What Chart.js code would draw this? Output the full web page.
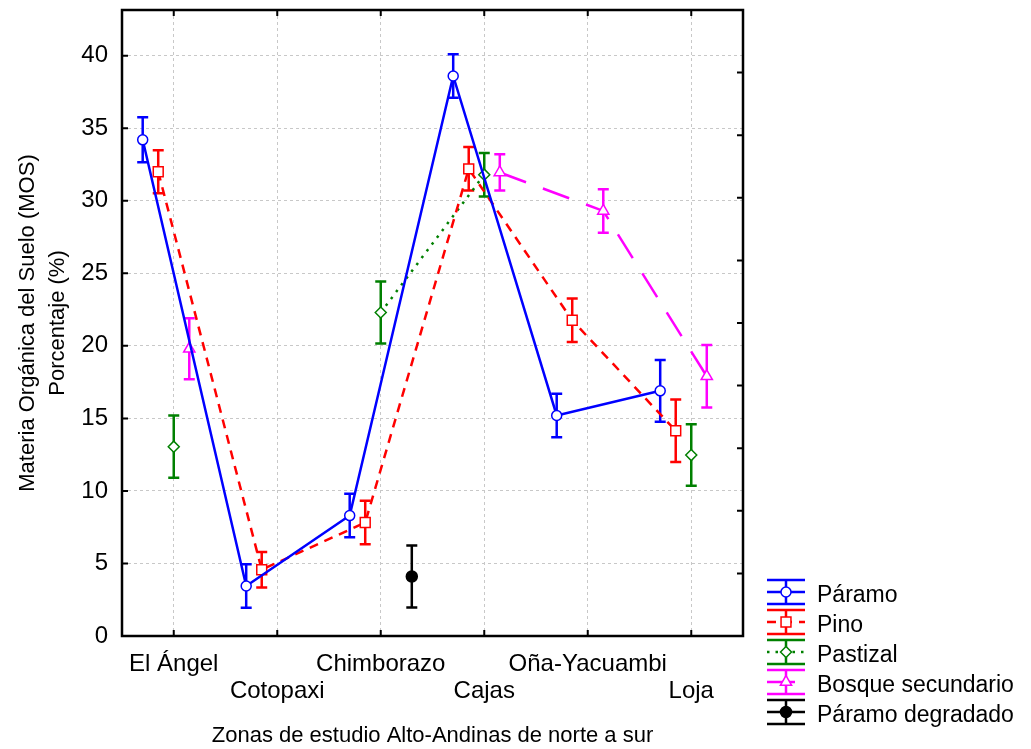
<!DOCTYPE html>
<html>
<head>
<meta charset="utf-8">
<script src="https://cdn.jsdelivr.net/npm/chart.js@4.4.1/dist/chart.umd.min.js"></script>
<style>
  html, body { margin: 0; padding: 0; background: #fff; }
  #wrap { width: 1031px; height: 749px; }
</style>
</head>
<body>
<div id="wrap"><canvas id="chart"></canvas></div>
<script>
// ---------------- DATA ----------------
const zonas = ["El Ángel", "Cotopaxi", "Chimborazo", "Cajas", "Oña-Yacuambi", "Loja"];
const yTicks = [0, 5, 10, 15, 20, 25, 30, 35, 40];

// mean MOS (%) and error (+/-) per zone, null = no sample
const paramo = [34.2, 3.45, 8.3, 38.6, 15.2, 16.9];
const paramoErr = [1.55, 1.5, 1.5, 1.5, 1.5, 2.13];
const pino = [32.0, 4.57, 7.82, 32.2, 21.76, 14.15];
const pinoErr = [1.48, 1.22, 1.5, 1.5, 1.5, 2.15];
const pastizal = [13.05, null, 22.3, 31.8, null, 12.47];
const pastizalErr = [2.15, null, 2.13, 1.5, null, 2.12];
const bosque = [19.8, null, null, 31.95, 29.3, 17.9];
const bosqueErr = [2.1, null, null, 1.25, 1.5, 2.15];
const degradado = [null, null, 4.1, null, null, null];
const degradadoErr = [null, null, 2.13, null, null, null];

const FONT = '"Liberation Sans", Arial, sans-serif';

const series = [
  { label: "Páramo", values: paramo, err: paramoErr, color: "#0000ff", dash: [], style: "circle", radius: 5, off: -0.3, fill: "#ffffff" },
  { label: "Pino", values: pino, err: pinoErr, color: "#ff0000", dash: [9, 7], style: "rect", radius: 7, off: -0.15, fill: "#ffffff" },
  { label: "Pastizal", values: pastizal, err: pastizalErr, color: "#008000", dash: [2.5, 6], style: "rectRot", radius: 5.5, off: 0, fill: "#ffffff" },
  { label: "Bosque secundario", values: bosque, err: bosqueErr, color: "#ff00ff", dash: [28, 18], style: "triangle", radius: 6.5, off: 0.15, fill: "#ffffff" },
  { label: "Páramo degradado", values: degradado, err: degradadoErr, color: "#000000", dash: [], style: "circle", radius: 5.5, off: 0.3, fill: "#000000" }
];

// ---------------- ERROR BARS ----------------
const errorBars = {
  id: "errorBars",
  beforeDatasetsDraw(chart) {
    const ctx = chart.ctx;
    const y = chart.scales.y;
    chart.data.datasets.forEach((ds, di) => {
      const meta = chart.getDatasetMeta(di);
      ds.errors.forEach((e, i) => {
        const v = ds.data[i].y;
        const pt = meta.data[i];
        if (v == null || e == null || !pt) return;
        const px = pt.x;
        const top = y.getPixelForValue(v + e);
        const bot = y.getPixelForValue(v - e);
        ctx.save();
        ctx.strokeStyle = ds.borderColor;
        ctx.lineWidth = 2.5;
        ctx.setLineDash([]);
        ctx.beginPath();
        ctx.moveTo(px, top); ctx.lineTo(px, bot);
        ctx.moveTo(px - 5.5, top); ctx.lineTo(px + 5.5, top);
        ctx.moveTo(px - 5.5, bot); ctx.lineTo(px + 5.5, bot);
        ctx.stroke();
        ctx.restore();
      });
    });
  }
};

// ---------------- FRAME + INWARD TICKS ----------------
const frame = {
  id: "frame",
  afterDatasetsDraw(chart) {
    const { ctx, chartArea: a, scales } = chart;
    ctx.save();
    ctx.strokeStyle = "#000";
    ctx.lineWidth = 2.5;
    ctx.setLineDash([]);
    ctx.strokeRect(a.left, a.top, a.right - a.left, a.bottom - a.top);
    ctx.lineWidth = 2;
    ctx.beginPath();
    yTicks.forEach(t => {
      const py = scales.y.getPixelForValue(t);
      ctx.moveTo(a.left, py); ctx.lineTo(a.left + 6, py);
    });
    for (let k = 0; k <= 10; k++) {
      const py = a.top + k * (a.bottom - a.top) / 10;
      ctx.moveTo(a.right, py); ctx.lineTo(a.right - 6, py);
    }
    zonas.forEach((z, i) => {
      const px = scales.x.getPixelForValue(i + 1);
      ctx.moveTo(px, a.bottom); ctx.lineTo(px, a.bottom - 6);
      ctx.moveTo(px, a.top); ctx.lineTo(px, a.top + 6);
    });
    ctx.stroke();
    ctx.restore();
  }
};

// ---------------- LEGEND ----------------
function drawMarker(ctx, s, x, y) {
  const r = s.radius;
  ctx.save();
  ctx.setLineDash([]);
  ctx.lineWidth = 1.5;
  ctx.strokeStyle = s.color;
  ctx.fillStyle = s.fill;
  ctx.beginPath();
  if (s.style === "circle") {
    ctx.arc(x, y, r, 0, Math.PI * 2);
  } else if (s.style === "rect") {
    const h = r * Math.SQRT1_2;
    ctx.rect(x - h, y - h, 2 * h, 2 * h);
  } else if (s.style === "rectRot") {
    ctx.moveTo(x, y - r); ctx.lineTo(x + r, y); ctx.lineTo(x, y + r); ctx.lineTo(x - r, y); ctx.closePath();
  } else {
    ctx.moveTo(x, y - r);
    ctx.lineTo(x + r * 0.866, y + r / 2);
    ctx.lineTo(x - r * 0.866, y + r / 2);
    ctx.closePath();
  }
  ctx.fill();
  ctx.stroke();
  ctx.restore();
}

const legendBox = {
  id: "legendBox",
  afterDraw(chart) {
    const ctx = chart.ctx;
    const x0 = 767, x1 = 805, cx = 786;
    series.forEach((s, i) => {
      const cy = 592 + i * 30;
      ctx.save();
      ctx.strokeStyle = s.color;
      ctx.lineWidth = 2.5;
      ctx.beginPath();
      ctx.moveTo(x0, cy - 12); ctx.lineTo(x1, cy - 12);
      ctx.moveTo(x0, cy + 12); ctx.lineTo(x1, cy + 12);
      ctx.moveTo(cx, cy - 12); ctx.lineTo(cx, cy + 12);
      ctx.stroke();
      ctx.setLineDash(s.dash);
      ctx.beginPath();
      ctx.moveTo(x0, cy); ctx.lineTo(x1, cy);
      ctx.stroke();
      ctx.restore();
      drawMarker(ctx, s, cx, cy);
      ctx.save();
      ctx.fillStyle = "#000";
      ctx.font = "23px " + FONT;
      ctx.textBaseline = "middle";
      ctx.textAlign = "left";
      ctx.fillText(s.label, 817, cy + 4);
      ctx.restore();
    });
  }
};

// ---------------- CHART ----------------
new Chart(document.getElementById("chart"), {
  type: "line",
  data: {
    datasets: series.map(s => ({
      label: s.label,
      data: s.values.map((v, i) => ({ x: i + 1 + s.off, y: v })),
      errors: s.err,
      borderColor: s.color,
      borderWidth: 2.5,
      borderDash: s.dash,
      pointStyle: s.style,
      pointRadius: s.radius,
      pointBorderWidth: 1.5,
      pointBorderColor: s.color,
      pointBackgroundColor: s.fill,
      tension: 0,
      fill: false,
      spanGaps: false
    }))
  },
  options: {
    responsive: true,
    maintainAspectRatio: false,
    animation: false,
    events: [],
    layout: { padding: { left: 0, top: 10, right: 288, bottom: 0 } },
    plugins: { legend: { display: false }, tooltip: { enabled: false } },
    scales: {
      x: {
        type: "linear",
        min: 0.5,
        max: 6.5,
        afterBuildTicks: sc => { sc.ticks = zonas.map((z, i) => ({ value: i + 1 })); },
        afterFit: sc => { sc.height = 113; sc.paddingLeft = 0; sc.paddingRight = 0; },
        grid: { color: "#c8c8c8", lineWidth: 1, drawTicks: false },
        border: { display: false, dash: [3, 3] },
        ticks: {
          autoSkip: false,
          maxRotation: 0,
          padding: 14,
          color: "#000",
          font: { family: FONT, size: 24, lineHeight: 1.16 },
          callback: v => {
            const i = Math.round(v) - 1;
            return i % 2 === 0 ? zonas[i] : ["", zonas[i]];
          }
        },
        title: {
          display: true,
          text: "Zonas de estudio Alto-Andinas de norte a sur",
          color: "#000",
          font: { family: FONT, size: 22 },
          padding: { top: 0, bottom: 0 }
        }
      },
      y: {
        min: 0,
        max: 43.15,
        afterBuildTicks: sc => { sc.ticks = yTicks.map(v => ({ value: v })); },
        afterFit: sc => { sc.width = 122; sc.paddingTop = 0; sc.paddingBottom = 0; },
        grid: { color: "#c8c8c8", lineWidth: 1, drawTicks: false },
        border: { display: false, dash: [3, 3] },
        ticks: {
          padding: 14,
          color: "#000",
          font: { family: FONT, size: 24 }
        },
        title: {
          display: true,
          text: ["Materia Orgánica del Suelo (MOS)", "Porcentaje (%)"],
          color: "#000",
          font: { family: FONT, size: 22, lineHeight: 1.36 },
          padding: { top: 13, bottom: 0 }
        }
      }
    }
  },
  plugins: [errorBars, frame, legendBox]
});
</script>
</body>
</html>
